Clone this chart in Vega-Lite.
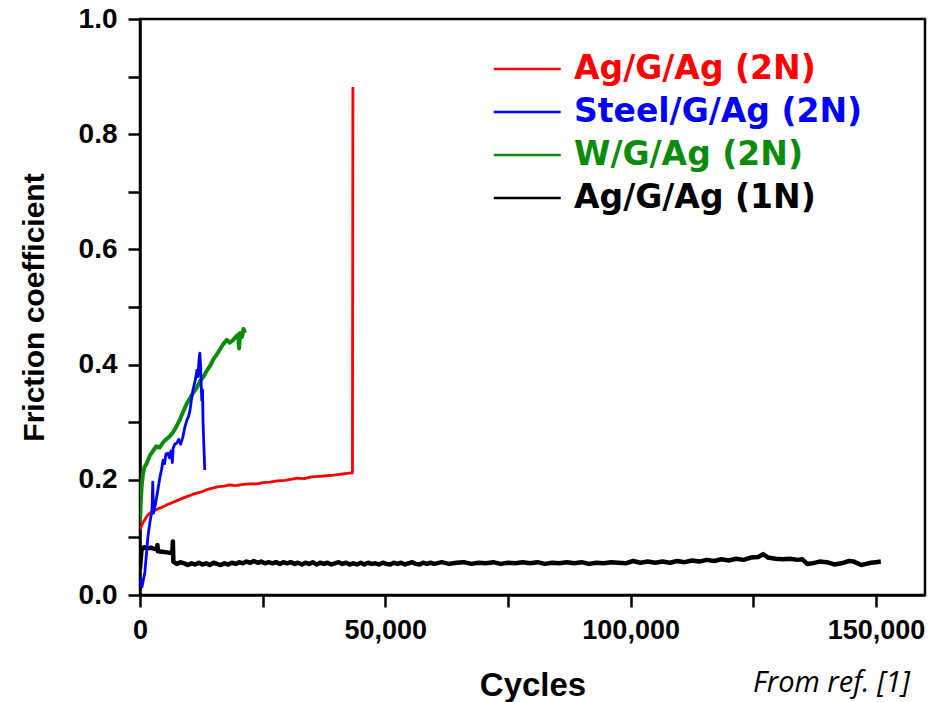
{
  "$schema": "https://vega.github.io/schema/vega-lite/v6.json",
  "width": 785,
  "height": 576,
  "autosize": {"type": "none"},
  "padding": {"left": 140, "top": 19, "right": 23, "bottom": 107},
  "background": "white",
  "config": {"view": {"stroke": "black", "strokeWidth": 2.5}},
  "title": {"text": "From ref. [1]", "orient": "bottom", "anchor": "end", "frame": "group", "font": "Open Sans", "fontStyle": "italic", "fontWeight": "normal", "fontSize": 29, "color": "black", "offset": -33, "dx": -15},
  "data": {"values": [
    {"series": "Ag/G/Ag (1N)", "cycles": 0, "cof": 0.045},
    {"series": "Ag/G/Ag (1N)", "cycles": 300, "cof": 0.078},
    {"series": "Ag/G/Ag (1N)", "cycles": 800, "cof": 0.083},
    {"series": "Ag/G/Ag (1N)", "cycles": 1500, "cof": 0.081},
    {"series": "Ag/G/Ag (1N)", "cycles": 2200, "cof": 0.082},
    {"series": "Ag/G/Ag (1N)", "cycles": 3000, "cof": 0.080},
    {"series": "Ag/G/Ag (1N)", "cycles": 3500, "cof": 0.079},
    {"series": "Ag/G/Ag (1N)", "cycles": 3550, "cof": 0.087},
    {"series": "Ag/G/Ag (1N)", "cycles": 3650, "cof": 0.076},
    {"series": "Ag/G/Ag (1N)", "cycles": 4500, "cof": 0.075},
    {"series": "Ag/G/Ag (1N)", "cycles": 5500, "cof": 0.074},
    {"series": "Ag/G/Ag (1N)", "cycles": 6400, "cof": 0.073},
    {"series": "Ag/G/Ag (1N)", "cycles": 6600, "cof": 0.074},
    {"series": "Ag/G/Ag (1N)", "cycles": 6700, "cof": 0.093},
    {"series": "Ag/G/Ag (1N)", "cycles": 6800, "cof": 0.058},
    {"series": "Ag/G/Ag (1N)", "cycles": 7500, "cof": 0.054},
    {"series": "Ag/G/Ag (1N)", "cycles": 8200, "cof": 0.057},
    {"series": "Ag/G/Ag (1N)", "cycles": 9000, "cof": 0.055},
    {"series": "Ag/G/Ag (1N)", "cycles": 9700, "cof": 0.052},
    {"series": "Ag/G/Ag (1N)", "cycles": 10500, "cof": 0.055},
    {"series": "Ag/G/Ag (1N)", "cycles": 11200, "cof": 0.053},
    {"series": "Ag/G/Ag (1N)", "cycles": 12000, "cof": 0.056},
    {"series": "Ag/G/Ag (1N)", "cycles": 12700, "cof": 0.053},
    {"series": "Ag/G/Ag (1N)", "cycles": 13500, "cof": 0.055},
    {"series": "Ag/G/Ag (1N)", "cycles": 14200, "cof": 0.052},
    {"series": "Ag/G/Ag (1N)", "cycles": 15000, "cof": 0.056},
    {"series": "Ag/G/Ag (1N)", "cycles": 15700, "cof": 0.054},
    {"series": "Ag/G/Ag (1N)", "cycles": 16500, "cof": 0.052},
    {"series": "Ag/G/Ag (1N)", "cycles": 17200, "cof": 0.055},
    {"series": "Ag/G/Ag (1N)", "cycles": 18000, "cof": 0.053},
    {"series": "Ag/G/Ag (1N)", "cycles": 18700, "cof": 0.056},
    {"series": "Ag/G/Ag (1N)", "cycles": 19500, "cof": 0.054},
    {"series": "Ag/G/Ag (1N)", "cycles": 20200, "cof": 0.057},
    {"series": "Ag/G/Ag (1N)", "cycles": 21000, "cof": 0.055},
    {"series": "Ag/G/Ag (1N)", "cycles": 21700, "cof": 0.058},
    {"series": "Ag/G/Ag (1N)", "cycles": 22500, "cof": 0.056},
    {"series": "Ag/G/Ag (1N)", "cycles": 23200, "cof": 0.059},
    {"series": "Ag/G/Ag (1N)", "cycles": 24000, "cof": 0.056},
    {"series": "Ag/G/Ag (1N)", "cycles": 24700, "cof": 0.058},
    {"series": "Ag/G/Ag (1N)", "cycles": 25500, "cof": 0.055},
    {"series": "Ag/G/Ag (1N)", "cycles": 26200, "cof": 0.057},
    {"series": "Ag/G/Ag (1N)", "cycles": 27000, "cof": 0.055},
    {"series": "Ag/G/Ag (1N)", "cycles": 27700, "cof": 0.057},
    {"series": "Ag/G/Ag (1N)", "cycles": 28500, "cof": 0.054},
    {"series": "Ag/G/Ag (1N)", "cycles": 29200, "cof": 0.057},
    {"series": "Ag/G/Ag (1N)", "cycles": 30000, "cof": 0.055},
    {"series": "Ag/G/Ag (1N)", "cycles": 30700, "cof": 0.057},
    {"series": "Ag/G/Ag (1N)", "cycles": 31500, "cof": 0.054},
    {"series": "Ag/G/Ag (1N)", "cycles": 32200, "cof": 0.056},
    {"series": "Ag/G/Ag (1N)", "cycles": 33000, "cof": 0.053},
    {"series": "Ag/G/Ag (1N)", "cycles": 33700, "cof": 0.056},
    {"series": "Ag/G/Ag (1N)", "cycles": 34500, "cof": 0.054},
    {"series": "Ag/G/Ag (1N)", "cycles": 35200, "cof": 0.057},
    {"series": "Ag/G/Ag (1N)", "cycles": 36000, "cof": 0.053},
    {"series": "Ag/G/Ag (1N)", "cycles": 36700, "cof": 0.056},
    {"series": "Ag/G/Ag (1N)", "cycles": 37500, "cof": 0.054},
    {"series": "Ag/G/Ag (1N)", "cycles": 38200, "cof": 0.056},
    {"series": "Ag/G/Ag (1N)", "cycles": 39000, "cof": 0.053},
    {"series": "Ag/G/Ag (1N)", "cycles": 39700, "cof": 0.055},
    {"series": "Ag/G/Ag (1N)", "cycles": 40500, "cof": 0.057},
    {"series": "Ag/G/Ag (1N)", "cycles": 41200, "cof": 0.054},
    {"series": "Ag/G/Ag (1N)", "cycles": 42000, "cof": 0.056},
    {"series": "Ag/G/Ag (1N)", "cycles": 42700, "cof": 0.053},
    {"series": "Ag/G/Ag (1N)", "cycles": 43500, "cof": 0.055},
    {"series": "Ag/G/Ag (1N)", "cycles": 44200, "cof": 0.053},
    {"series": "Ag/G/Ag (1N)", "cycles": 45000, "cof": 0.056},
    {"series": "Ag/G/Ag (1N)", "cycles": 45700, "cof": 0.053},
    {"series": "Ag/G/Ag (1N)", "cycles": 46500, "cof": 0.056},
    {"series": "Ag/G/Ag (1N)", "cycles": 47200, "cof": 0.054},
    {"series": "Ag/G/Ag (1N)", "cycles": 48000, "cof": 0.055},
    {"series": "Ag/G/Ag (1N)", "cycles": 48700, "cof": 0.053},
    {"series": "Ag/G/Ag (1N)", "cycles": 49500, "cof": 0.056},
    {"series": "Ag/G/Ag (1N)", "cycles": 50200, "cof": 0.054},
    {"series": "Ag/G/Ag (1N)", "cycles": 51000, "cof": 0.053},
    {"series": "Ag/G/Ag (1N)", "cycles": 51700, "cof": 0.056},
    {"series": "Ag/G/Ag (1N)", "cycles": 52500, "cof": 0.054},
    {"series": "Ag/G/Ag (1N)", "cycles": 53200, "cof": 0.056},
    {"series": "Ag/G/Ag (1N)", "cycles": 54000, "cof": 0.053},
    {"series": "Ag/G/Ag (1N)", "cycles": 54700, "cof": 0.055},
    {"series": "Ag/G/Ag (1N)", "cycles": 55500, "cof": 0.057},
    {"series": "Ag/G/Ag (1N)", "cycles": 56200, "cof": 0.054},
    {"series": "Ag/G/Ag (1N)", "cycles": 57000, "cof": 0.053},
    {"series": "Ag/G/Ag (1N)", "cycles": 57700, "cof": 0.056},
    {"series": "Ag/G/Ag (1N)", "cycles": 58500, "cof": 0.054},
    {"series": "Ag/G/Ag (1N)", "cycles": 59200, "cof": 0.056},
    {"series": "Ag/G/Ag (1N)", "cycles": 60000, "cof": 0.054},
    {"series": "Ag/G/Ag (1N)", "cycles": 61500, "cof": 0.057},
    {"series": "Ag/G/Ag (1N)", "cycles": 63000, "cof": 0.054},
    {"series": "Ag/G/Ag (1N)", "cycles": 64500, "cof": 0.056},
    {"series": "Ag/G/Ag (1N)", "cycles": 66000, "cof": 0.057},
    {"series": "Ag/G/Ag (1N)", "cycles": 67500, "cof": 0.054},
    {"series": "Ag/G/Ag (1N)", "cycles": 69000, "cof": 0.056},
    {"series": "Ag/G/Ag (1N)", "cycles": 70500, "cof": 0.055},
    {"series": "Ag/G/Ag (1N)", "cycles": 72000, "cof": 0.057},
    {"series": "Ag/G/Ag (1N)", "cycles": 73500, "cof": 0.054},
    {"series": "Ag/G/Ag (1N)", "cycles": 75000, "cof": 0.056},
    {"series": "Ag/G/Ag (1N)", "cycles": 76500, "cof": 0.055},
    {"series": "Ag/G/Ag (1N)", "cycles": 78000, "cof": 0.057},
    {"series": "Ag/G/Ag (1N)", "cycles": 79500, "cof": 0.055},
    {"series": "Ag/G/Ag (1N)", "cycles": 81000, "cof": 0.057},
    {"series": "Ag/G/Ag (1N)", "cycles": 82500, "cof": 0.054},
    {"series": "Ag/G/Ag (1N)", "cycles": 84000, "cof": 0.056},
    {"series": "Ag/G/Ag (1N)", "cycles": 85500, "cof": 0.055},
    {"series": "Ag/G/Ag (1N)", "cycles": 87000, "cof": 0.057},
    {"series": "Ag/G/Ag (1N)", "cycles": 88500, "cof": 0.055},
    {"series": "Ag/G/Ag (1N)", "cycles": 90000, "cof": 0.057},
    {"series": "Ag/G/Ag (1N)", "cycles": 91500, "cof": 0.054},
    {"series": "Ag/G/Ag (1N)", "cycles": 93000, "cof": 0.056},
    {"series": "Ag/G/Ag (1N)", "cycles": 94500, "cof": 0.055},
    {"series": "Ag/G/Ag (1N)", "cycles": 96000, "cof": 0.057},
    {"series": "Ag/G/Ag (1N)", "cycles": 97500, "cof": 0.056},
    {"series": "Ag/G/Ag (1N)", "cycles": 99000, "cof": 0.055},
    {"series": "Ag/G/Ag (1N)", "cycles": 100500, "cof": 0.059},
    {"series": "Ag/G/Ag (1N)", "cycles": 102000, "cof": 0.056},
    {"series": "Ag/G/Ag (1N)", "cycles": 103500, "cof": 0.058},
    {"series": "Ag/G/Ag (1N)", "cycles": 105000, "cof": 0.056},
    {"series": "Ag/G/Ag (1N)", "cycles": 106500, "cof": 0.058},
    {"series": "Ag/G/Ag (1N)", "cycles": 108000, "cof": 0.056},
    {"series": "Ag/G/Ag (1N)", "cycles": 109500, "cof": 0.059},
    {"series": "Ag/G/Ag (1N)", "cycles": 111000, "cof": 0.057},
    {"series": "Ag/G/Ag (1N)", "cycles": 112500, "cof": 0.060},
    {"series": "Ag/G/Ag (1N)", "cycles": 114000, "cof": 0.058},
    {"series": "Ag/G/Ag (1N)", "cycles": 115500, "cof": 0.061},
    {"series": "Ag/G/Ag (1N)", "cycles": 117000, "cof": 0.059},
    {"series": "Ag/G/Ag (1N)", "cycles": 118500, "cof": 0.062},
    {"series": "Ag/G/Ag (1N)", "cycles": 120000, "cof": 0.060},
    {"series": "Ag/G/Ag (1N)", "cycles": 121500, "cof": 0.063},
    {"series": "Ag/G/Ag (1N)", "cycles": 123000, "cof": 0.061},
    {"series": "Ag/G/Ag (1N)", "cycles": 124500, "cof": 0.065},
    {"series": "Ag/G/Ag (1N)", "cycles": 126000, "cof": 0.066},
    {"series": "Ag/G/Ag (1N)", "cycles": 127000, "cof": 0.071},
    {"series": "Ag/G/Ag (1N)", "cycles": 128000, "cof": 0.065},
    {"series": "Ag/G/Ag (1N)", "cycles": 129500, "cof": 0.063},
    {"series": "Ag/G/Ag (1N)", "cycles": 131000, "cof": 0.062},
    {"series": "Ag/G/Ag (1N)", "cycles": 132500, "cof": 0.063},
    {"series": "Ag/G/Ag (1N)", "cycles": 134000, "cof": 0.061},
    {"series": "Ag/G/Ag (1N)", "cycles": 135000, "cof": 0.062},
    {"series": "Ag/G/Ag (1N)", "cycles": 136000, "cof": 0.054},
    {"series": "Ag/G/Ag (1N)", "cycles": 137000, "cof": 0.055},
    {"series": "Ag/G/Ag (1N)", "cycles": 138500, "cof": 0.058},
    {"series": "Ag/G/Ag (1N)", "cycles": 140000, "cof": 0.057},
    {"series": "Ag/G/Ag (1N)", "cycles": 141500, "cof": 0.053},
    {"series": "Ag/G/Ag (1N)", "cycles": 143000, "cof": 0.055},
    {"series": "Ag/G/Ag (1N)", "cycles": 144500, "cof": 0.059},
    {"series": "Ag/G/Ag (1N)", "cycles": 145500, "cof": 0.058},
    {"series": "Ag/G/Ag (1N)", "cycles": 147000, "cof": 0.052},
    {"series": "Ag/G/Ag (1N)", "cycles": 148000, "cof": 0.054},
    {"series": "Ag/G/Ag (1N)", "cycles": 149000, "cof": 0.056},
    {"series": "Ag/G/Ag (1N)", "cycles": 150000, "cof": 0.057},
    {"series": "Ag/G/Ag (1N)", "cycles": 151000, "cof": 0.058},

    {"series": "Ag/G/Ag (2N)", "cycles": 0, "cof": 0.113},
    {"series": "Ag/G/Ag (2N)", "cycles": 500, "cof": 0.124},
    {"series": "Ag/G/Ag (2N)", "cycles": 1000, "cof": 0.131},
    {"series": "Ag/G/Ag (2N)", "cycles": 1500, "cof": 0.138},
    {"series": "Ag/G/Ag (2N)", "cycles": 2000, "cof": 0.142},
    {"series": "Ag/G/Ag (2N)", "cycles": 2800, "cof": 0.146},
    {"series": "Ag/G/Ag (2N)", "cycles": 3500, "cof": 0.149},
    {"series": "Ag/G/Ag (2N)", "cycles": 4700, "cof": 0.153},
    {"series": "Ag/G/Ag (2N)", "cycles": 5600, "cof": 0.157},
    {"series": "Ag/G/Ag (2N)", "cycles": 6500, "cof": 0.160},
    {"series": "Ag/G/Ag (2N)", "cycles": 7300, "cof": 0.163},
    {"series": "Ag/G/Ag (2N)", "cycles": 8100, "cof": 0.166},
    {"series": "Ag/G/Ag (2N)", "cycles": 9000, "cof": 0.169},
    {"series": "Ag/G/Ag (2N)", "cycles": 10000, "cof": 0.172},
    {"series": "Ag/G/Ag (2N)", "cycles": 10800, "cof": 0.175},
    {"series": "Ag/G/Ag (2N)", "cycles": 11600, "cof": 0.177},
    {"series": "Ag/G/Ag (2N)", "cycles": 12800, "cof": 0.180},
    {"series": "Ag/G/Ag (2N)", "cycles": 14000, "cof": 0.184},
    {"series": "Ag/G/Ag (2N)", "cycles": 15000, "cof": 0.186},
    {"series": "Ag/G/Ag (2N)", "cycles": 16000, "cof": 0.188},
    {"series": "Ag/G/Ag (2N)", "cycles": 17200, "cof": 0.189},
    {"series": "Ag/G/Ag (2N)", "cycles": 18300, "cof": 0.191},
    {"series": "Ag/G/Ag (2N)", "cycles": 19500, "cof": 0.190},
    {"series": "Ag/G/Ag (2N)", "cycles": 21000, "cof": 0.192},
    {"series": "Ag/G/Ag (2N)", "cycles": 22500, "cof": 0.193},
    {"series": "Ag/G/Ag (2N)", "cycles": 24000, "cof": 0.193},
    {"series": "Ag/G/Ag (2N)", "cycles": 25000, "cof": 0.195},
    {"series": "Ag/G/Ag (2N)", "cycles": 26500, "cof": 0.196},
    {"series": "Ag/G/Ag (2N)", "cycles": 28000, "cof": 0.198},
    {"series": "Ag/G/Ag (2N)", "cycles": 29500, "cof": 0.199},
    {"series": "Ag/G/Ag (2N)", "cycles": 31000, "cof": 0.201},
    {"series": "Ag/G/Ag (2N)", "cycles": 32000, "cof": 0.203},
    {"series": "Ag/G/Ag (2N)", "cycles": 33500, "cof": 0.202},
    {"series": "Ag/G/Ag (2N)", "cycles": 35000, "cof": 0.205},
    {"series": "Ag/G/Ag (2N)", "cycles": 36500, "cof": 0.206},
    {"series": "Ag/G/Ag (2N)", "cycles": 38000, "cof": 0.207},
    {"series": "Ag/G/Ag (2N)", "cycles": 39500, "cof": 0.208},
    {"series": "Ag/G/Ag (2N)", "cycles": 41000, "cof": 0.210},
    {"series": "Ag/G/Ag (2N)", "cycles": 42200, "cof": 0.211},
    {"series": "Ag/G/Ag (2N)", "cycles": 43300, "cof": 0.212},
    {"series": "Ag/G/Ag (2N)", "cycles": 43400, "cof": 0.882},

    {"series": "W/G/Ag (2N)", "cycles": 0, "cof": 0.125},
    {"series": "W/G/Ag (2N)", "cycles": 150, "cof": 0.160},
    {"series": "W/G/Ag (2N)", "cycles": 350, "cof": 0.190},
    {"series": "W/G/Ag (2N)", "cycles": 600, "cof": 0.210},
    {"series": "W/G/Ag (2N)", "cycles": 900, "cof": 0.222},
    {"series": "W/G/Ag (2N)", "cycles": 1400, "cof": 0.229},
    {"series": "W/G/Ag (2N)", "cycles": 2000, "cof": 0.242},
    {"series": "W/G/Ag (2N)", "cycles": 2650, "cof": 0.250},
    {"series": "W/G/Ag (2N)", "cycles": 3300, "cof": 0.258},
    {"series": "W/G/Ag (2N)", "cycles": 4000, "cof": 0.256},
    {"series": "W/G/Ag (2N)", "cycles": 4700, "cof": 0.265},
    {"series": "W/G/Ag (2N)", "cycles": 5300, "cof": 0.270},
    {"series": "W/G/Ag (2N)", "cycles": 6000, "cof": 0.275},
    {"series": "W/G/Ag (2N)", "cycles": 6700, "cof": 0.282},
    {"series": "W/G/Ag (2N)", "cycles": 7400, "cof": 0.292},
    {"series": "W/G/Ag (2N)", "cycles": 8150, "cof": 0.305},
    {"series": "W/G/Ag (2N)", "cycles": 8800, "cof": 0.318},
    {"series": "W/G/Ag (2N)", "cycles": 9570, "cof": 0.333},
    {"series": "W/G/Ag (2N)", "cycles": 10200, "cof": 0.342},
    {"series": "W/G/Ag (2N)", "cycles": 10900, "cof": 0.352},
    {"series": "W/G/Ag (2N)", "cycles": 11600, "cof": 0.360},
    {"series": "W/G/Ag (2N)", "cycles": 12300, "cof": 0.372},
    {"series": "W/G/Ag (2N)", "cycles": 13000, "cof": 0.380},
    {"series": "W/G/Ag (2N)", "cycles": 13650, "cof": 0.390},
    {"series": "W/G/Ag (2N)", "cycles": 14300, "cof": 0.398},
    {"series": "W/G/Ag (2N)", "cycles": 15000, "cof": 0.410},
    {"series": "W/G/Ag (2N)", "cycles": 15700, "cof": 0.418},
    {"series": "W/G/Ag (2N)", "cycles": 16400, "cof": 0.428},
    {"series": "W/G/Ag (2N)", "cycles": 17000, "cof": 0.436},
    {"series": "W/G/Ag (2N)", "cycles": 17700, "cof": 0.443},
    {"series": "W/G/Ag (2N)", "cycles": 18300, "cof": 0.438},
    {"series": "W/G/Ag (2N)", "cycles": 18900, "cof": 0.442},
    {"series": "W/G/Ag (2N)", "cycles": 19500, "cof": 0.448},
    {"series": "W/G/Ag (2N)", "cycles": 20000, "cof": 0.452},
    {"series": "W/G/Ag (2N)", "cycles": 20200, "cof": 0.428},
    {"series": "W/G/Ag (2N)", "cycles": 20400, "cof": 0.455},
    {"series": "W/G/Ag (2N)", "cycles": 20800, "cof": 0.448},
    {"series": "W/G/Ag (2N)", "cycles": 21100, "cof": 0.462},
    {"series": "W/G/Ag (2N)", "cycles": 21400, "cof": 0.455},

    {"series": "Steel/G/Ag (2N)", "cycles": 0, "cof": 0.030},
    {"series": "Steel/G/Ag (2N)", "cycles": 400, "cof": 0.014},
    {"series": "Steel/G/Ag (2N)", "cycles": 1000, "cof": 0.040},
    {"series": "Steel/G/Ag (2N)", "cycles": 1600, "cof": 0.100},
    {"series": "Steel/G/Ag (2N)", "cycles": 2000, "cof": 0.125},
    {"series": "Steel/G/Ag (2N)", "cycles": 2450, "cof": 0.148},
    {"series": "Steel/G/Ag (2N)", "cycles": 2600, "cof": 0.196},
    {"series": "Steel/G/Ag (2N)", "cycles": 2750, "cof": 0.142},
    {"series": "Steel/G/Ag (2N)", "cycles": 3200, "cof": 0.160},
    {"series": "Steel/G/Ag (2N)", "cycles": 3600, "cof": 0.180},
    {"series": "Steel/G/Ag (2N)", "cycles": 4070, "cof": 0.205},
    {"series": "Steel/G/Ag (2N)", "cycles": 4400, "cof": 0.218},
    {"series": "Steel/G/Ag (2N)", "cycles": 4700, "cof": 0.234},
    {"series": "Steel/G/Ag (2N)", "cycles": 5000, "cof": 0.228},
    {"series": "Steel/G/Ag (2N)", "cycles": 5300, "cof": 0.245},
    {"series": "Steel/G/Ag (2N)", "cycles": 5700, "cof": 0.246},
    {"series": "Steel/G/Ag (2N)", "cycles": 6000, "cof": 0.238},
    {"series": "Steel/G/Ag (2N)", "cycles": 6300, "cof": 0.250},
    {"series": "Steel/G/Ag (2N)", "cycles": 6600, "cof": 0.230},
    {"series": "Steel/G/Ag (2N)", "cycles": 6750, "cof": 0.255},
    {"series": "Steel/G/Ag (2N)", "cycles": 7100, "cof": 0.262},
    {"series": "Steel/G/Ag (2N)", "cycles": 7540, "cof": 0.264},
    {"series": "Steel/G/Ag (2N)", "cycles": 7900, "cof": 0.270},
    {"series": "Steel/G/Ag (2N)", "cycles": 8300, "cof": 0.262},
    {"series": "Steel/G/Ag (2N)", "cycles": 8760, "cof": 0.275},
    {"series": "Steel/G/Ag (2N)", "cycles": 9100, "cof": 0.290},
    {"series": "Steel/G/Ag (2N)", "cycles": 9570, "cof": 0.304},
    {"series": "Steel/G/Ag (2N)", "cycles": 9900, "cof": 0.310},
    {"series": "Steel/G/Ag (2N)", "cycles": 10200, "cof": 0.321},
    {"series": "Steel/G/Ag (2N)", "cycles": 10500, "cof": 0.340},
    {"series": "Steel/G/Ag (2N)", "cycles": 10800, "cof": 0.356},
    {"series": "Steel/G/Ag (2N)", "cycles": 11200, "cof": 0.370},
    {"series": "Steel/G/Ag (2N)", "cycles": 11600, "cof": 0.390},
    {"series": "Steel/G/Ag (2N)", "cycles": 11800, "cof": 0.379},
    {"series": "Steel/G/Ag (2N)", "cycles": 12000, "cof": 0.405},
    {"series": "Steel/G/Ag (2N)", "cycles": 12200, "cof": 0.420},
    {"series": "Steel/G/Ag (2N)", "cycles": 12350, "cof": 0.396},
    {"series": "Steel/G/Ag (2N)", "cycles": 12500, "cof": 0.360},
    {"series": "Steel/G/Ag (2N)", "cycles": 12600, "cof": 0.338},
    {"series": "Steel/G/Ag (2N)", "cycles": 12750, "cof": 0.356},
    {"series": "Steel/G/Ag (2N)", "cycles": 12850, "cof": 0.300},
    {"series": "Steel/G/Ag (2N)", "cycles": 13000, "cof": 0.264},
    {"series": "Steel/G/Ag (2N)", "cycles": 13200, "cof": 0.217}
  ]},
  "encoding": {
    "x": {
      "field": "cycles", "type": "quantitative",
      "scale": {"domain": [0, 160000], "nice": false, "zero": false},
      "axis": {
        "values": [0, 25000, 50000, 75000, 100000, 125000, 150000],
        "labelExpr": "datum.value % 50000 === 0 ? format(datum.value, ',') : ''",
        "grid": false, "tickSize": 12, "tickColor": "black", "tickWidth": 2.5,
        "domainColor": "black", "domainWidth": 2.5,
        "labelFont": "Liberation Sans", "labelFontWeight": "bold", "labelFontSize": 27, "labelColor": "black",
        "labelPadding": 10, "labelFlush": false, "labelOverlap": false,
        "title": "Cycles", "titleFont": "Liberation Sans", "titleFontSize": 33, "titleFontWeight": "bold", "titleColor": "black", "titlePadding": 26,
        "encode": {"ticks": {"update": {"y2": {"signal": "datum.value % 50000 === 0 ? 12 : 7"}}}}
      }
    },
    "y": {
      "field": "cof", "type": "quantitative",
      "scale": {"domain": [0, 1], "nice": false},
      "axis": {
        "values": [0, 0.1, 0.2, 0.3, 0.4, 0.5, 0.6, 0.7, 0.8, 0.9, 1.0],
        "labelExpr": "round(datum.value * 10) % 2 === 0 ? format(datum.value, '.1f') : ''",
        "grid": false, "tickSize": 12, "tickColor": "black", "tickWidth": 2.5,
        "domainColor": "black", "domainWidth": 2.5,
        "labelFont": "Liberation Sans", "labelFontWeight": "bold", "labelFontSize": 28, "labelColor": "black",
        "labelPadding": 11, "labelFlush": false, "labelOverlap": false,
        "title": "Friction coefficient", "titleFont": "Liberation Sans", "titleFontSize": 30, "titleFontWeight": "bold", "titleColor": "black", "titlePadding": 29,
        "encode": {"ticks": {"update": {"x2": {"signal": "round(datum.value * 10) % 2 === 0 ? -12 : -7"}}}}
      }
    },
    "color": {
      "field": "series", "type": "nominal",
      "scale": {"domain": ["Ag/G/Ag (2N)", "Steel/G/Ag (2N)", "W/G/Ag (2N)", "Ag/G/Ag (1N)"], "range": ["#ff0000", "#0000ff", "#0a8c0a", "#000000"]},
      "legend": {
        "orient": "none", "legendX": 386, "legendY": 32, "title": null,
        "symbolType": "M-3,0H1", "symbolSize": 1122, "symbolStrokeWidth": 2.5,
        "labelFont": "DejaVu Sans", "labelFontWeight": "bold", "labelFontSize": 33, "labelOffset": 12, "labelLimit": 500,
        "rowPadding": 8, "padding": 0,
        "encode": {
          "labels": {"update": {"fill": {"scale": "color", "field": "value"}}}
        }
      }
    }
  },
  "layer": [
    {"transform": [{"filter": "datum.series === 'Ag/G/Ag (1N)'"}], "mark": {"type": "line", "clip": true, "strokeJoin": "round", "strokeWidth": 4.5}},
    {"transform": [{"filter": "datum.series === 'W/G/Ag (2N)'"}], "mark": {"type": "line", "clip": true, "strokeJoin": "round", "strokeWidth": 4}},
    {"transform": [{"filter": "datum.series === 'Ag/G/Ag (2N)' || datum.series === 'Steel/G/Ag (2N)'"}], "mark": {"type": "line", "clip": true, "strokeJoin": "round", "strokeWidth": 2.8}}
  ]
}
